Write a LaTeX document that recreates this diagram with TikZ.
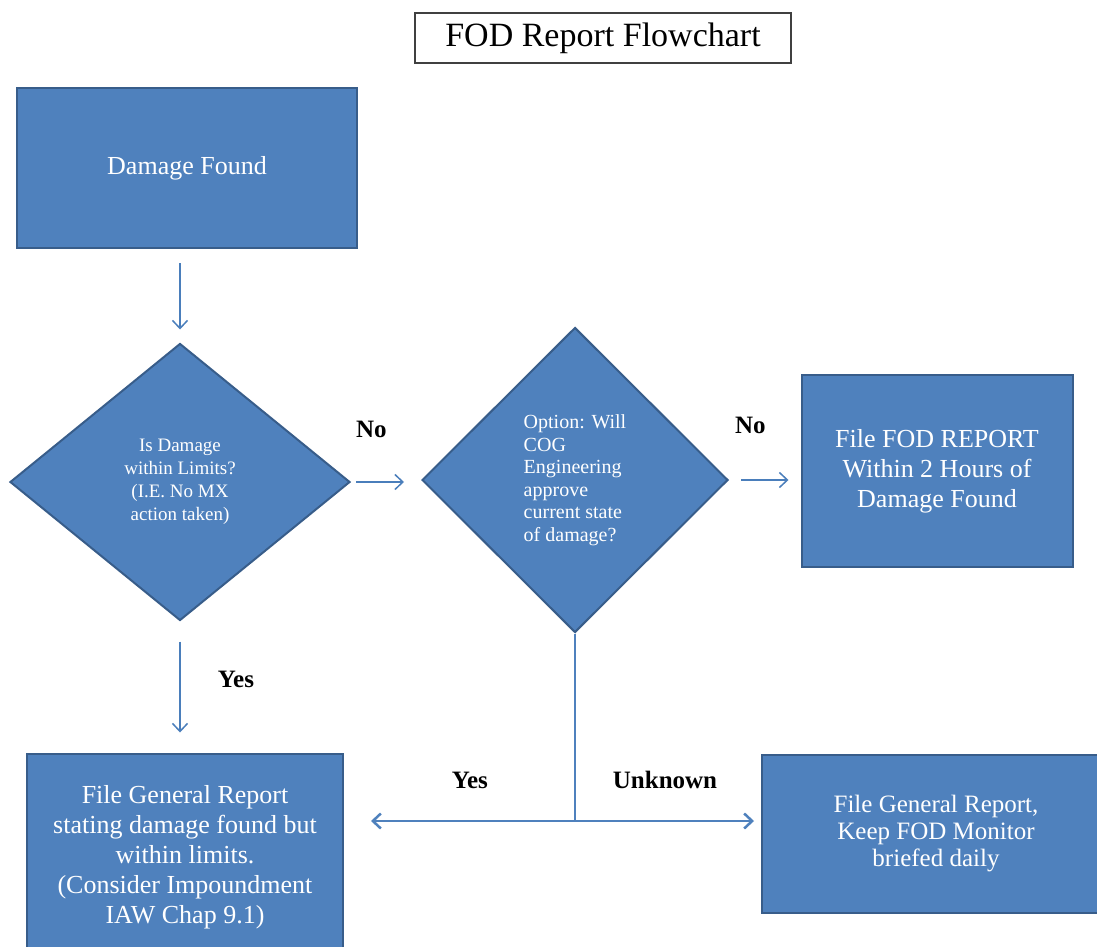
\documentclass[tikz,border=0pt]{standalone}
\usepackage{fontspec}
\setmainfont{Liberation Serif}
\usepackage{tikz}
\usetikzlibrary{arrows.meta, positioning, shapes.geometric}
\definecolor{fodblue}{HTML}{4F81BD}
\definecolor{fodedge}{HTML}{385D8A}
\definecolor{fodarrow}{HTML}{4A7EBB}
\tikzset{
>={Straight Barb[length=8pt,width=15pt]}, % open arrow heads
block/.style={rectangle, draw=fodedge, fill=fodblue, line width=2pt, text=white, align=center, font=\fontsize{26}{30}\selectfont}, % blue boxes
decision/.style={diamond, draw=fodedge, fill=fodblue, line width=2pt, text=white, inner sep=0pt, font=\fontsize{19}{23}\selectfont}, % question diamonds
flow/.style={->, draw=fodarrow, line width=1.5pt},
branch/.style={draw=fodblue, line width=2.5pt},
answer/.style={font=\bfseries\fontsize{25}{28}\selectfont},
}

\begin{document}
\begin{tikzpicture}[x=1pt, y=-1pt]%pixel grid of the sheet
  \useasboundingbox (0,0) rectangle (1097,947);
  \clip (0,0) rectangle (1097,947);

  \node[draw=black!75, line width=2pt, fill=white, minimum width=376pt, minimum height=50pt, font=\fontsize{34}{38}\selectfont] (title) at (603,38) {FOD Report Flowchart};

  \node[block, minimum width=340pt, minimum height=160pt] (found) at (187,168) {Damage Found};
  \node[decision, minimum width=340pt, minimum height=277pt, align=center] (limits) at (180,482) {Is Damage\\within Limits?\\(I.E. No MX\\action taken)};
  \node[decision, minimum width=306pt, minimum height=305pt, align=left, font=\fontsize{20}{22.5}\selectfont] (option) at (575,480) {Option: Will\\COG\\Engineering\\approve\\current state\\of damage?};
  \node[block, minimum width=271pt, minimum height=192pt] (fodreport) at (937,471) {File FOD REPORT\\Within 2 Hours of\\Damage Found};
  \node[block, minimum width=316pt, minimum height=207pt] (generalok) at (185,857) {File General Report\\stating damage found but\\within limits.\\(Consider Impoundment\\IAW Chap 9.1)};
  \node[block, minimum width=348pt, minimum height=158pt, font=\fontsize{25}{27}\selectfont] (monitor) at (936,834) {File General Report,\\Keep FOD Monitor\\briefed daily};

  \coordinate (split) at (option.south |- 0,821);

  \draw[flow, shorten <=14pt, shorten >=13pt] (found.south -| limits.north) -- (limits.north);
  \draw[flow, shorten <=5pt, shorten >=17pt] (limits.east) -- (limits.east -| option.west) node[answer, pos=.29, yshift=53pt]{No};
  \draw[flow, shorten <=12pt, shorten >=12pt] (option.east) -- (option.east -| fodreport.west) node[answer, pos=.3, yshift=55pt]{No};
  \draw[flow, shorten <=20pt, shorten >=20pt] (limits.south) -- (limits.south |- generalok.north) node[answer, pos=.44, xshift=56pt]{Yes};

  \draw[branch] (option.south) -- (split);
  \draw[branch, ->, shorten >=27pt] (split) -- (split -| generalok.east) node[answer, pos=.455, yshift=41pt]{Yes};
  \draw[branch, ->, shorten >=7pt] (split) -- (split -| monitor.west) node[answer, pos=.484, yshift=41pt]{Unknown};
\end{tikzpicture}
\end{document}
